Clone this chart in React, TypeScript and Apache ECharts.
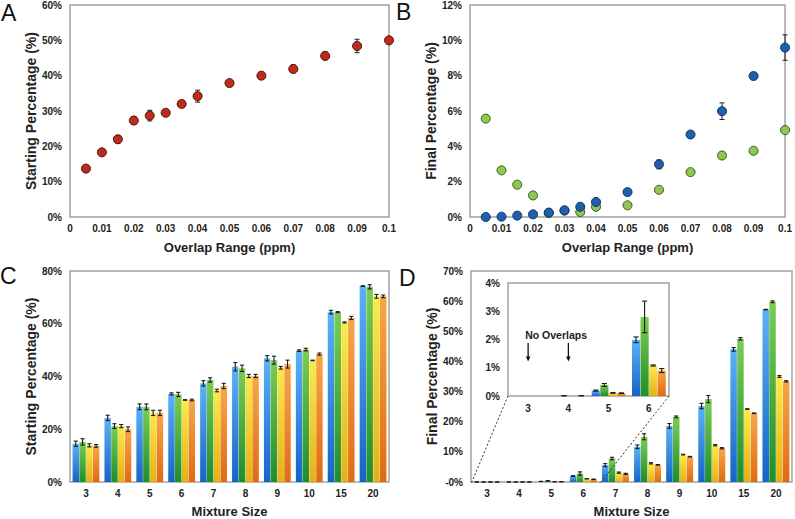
import React, { useEffect, useRef } from 'react';
import * as echarts from 'echarts';

// ---- Panel A / B data ----
const overlapRange = [0.005, 0.01, 0.015, 0.02, 0.025, 0.03, 0.035, 0.04, 0.05, 0.06, 0.07, 0.08, 0.09, 0.1];
const startPct = [13.7, 18.3, 22.0, 27.3, 28.7, 29.5, 32.0, 34.2, 37.9, 40.0, 41.9, 45.6, 48.4, 50.0];
const startPctErr = [0.5, 0.5, 1.0, 1.1, 1.5, 0.8, 0.8, 1.7, 0.5, 1.0, 1.1, 1.1, 1.9, 0.8];
const finalBlue = [0.0, 0.02, 0.08, 0.15, 0.25, 0.38, 0.58, 0.85, 1.41, 2.98, 4.67, 5.99, 7.98, 9.59];
const finalBlueErr = [0.02, 0.02, 0.03, 0.05, 0.05, 0.08, 0.08, 0.1, 0.08, 0.25, 0.1, 0.47, 0.2, 0.72];
const finalGreen = [5.57, 2.64, 1.83, 1.22, 0.22, 0.36, 0.28, 0.58, 0.66, 1.54, 2.54, 3.48, 3.75, 4.92];

// ---- Panel C / D data ----
const mixtureSize = ['3', '4', '5', '6', '7', '8', '9', '10', '15', '20'];
const startBlue = [14.5, 24.3, 28.5, 33.4, 37.4, 43.7, 46.9, 49.8, 64.4, 74.3];
const startGreen = [15.2, 21.2, 28.5, 33.2, 38.7, 43.1, 46.2, 50.2, 64.4, 74.0];
const startYellow = [13.9, 21.2, 26.2, 31.1, 34.7, 40.2, 43.3, 46.1, 60.5, 70.4];
const startOrange = [13.7, 20.0, 26.2, 31.1, 36.4, 40.2, 44.7, 48.5, 62.2, 70.4];
const startBlueErr = [1.0, 1.0, 1.1, 0.4, 1.0, 1.6, 1.0, 0.3, 0.7, 0.1];
const startGreenErr = [1.2, 0.9, 1.1, 0.8, 0.8, 1.2, 1.5, 0.5, 0.2, 0.8];
const startYellowErr = [0.6, 0.6, 1.0, 0.1, 0.5, 0.6, 0.5, 0.1, 0.2, 0.7];
const startOrangeErr = [0.5, 0.9, 1.0, 0.3, 1.0, 0.6, 1.5, 0.4, 0.6, 0.5];

const endBlue = [0, 0, 0.19, 1.99, 5.6, 11.7, 18.6, 25.2, 44.0, 57.2];
const endGreen = [0, 0.01, 0.39, 2.8, 7.8, 15.0, 21.6, 27.5, 47.5, 59.8];
const endYellow = [0, 0, 0.11, 1.08, 3.1, 6.2, 9.1, 12.2, 24.2, 35.0];
const endOrange = [0, 0.01, 0.1, 0.9, 2.7, 5.7, 8.4, 11.2, 22.8, 33.4];
const endBlueErr = [0, 0, 0.02, 0.1, 0.5, 0.6, 0.8, 0.9, 0.6, 0.1];
const endGreenErr = [0, 0, 0.05, 0.56, 0.4, 1.0, 0.3, 1.2, 0.4, 0.3];
const endYellowErr = [0, 0, 0.01, 0.02, 0.2, 0.2, 0.1, 0.2, 0.1, 0.3];
const endOrangeErr = [0, 0, 0.01, 0.07, 0.2, 0.1, 0.1, 0.2, 0.1, 0.2];

const insetCount = 4;
const noOverlapCats = ['3', '4'];
const noOverlapText = 'No Overlaps';

const FONT = "'Liberation Sans', Arial, Helvetica, sans-serif";
const BORDER = '#a3a3a3';
const CAT_GAP = 0.16;
const BAR_GAP = 0.05;

const grad = (top: string, bottom: string) =>
  new echarts.graphic.LinearGradient(0, 0, 0, 1, [
    { offset: 0, color: top },
    { offset: 1, color: bottom },
  ]);

const barColors = [
  ['#5cb2f8', '#1464c6'],
  ['#7ccd52', '#1e8d2d'],
  ['#fbea4c', '#e3b01a'],
  ['#f8a746', '#e06a12'],
];

function scatterErr(xs: number[], ys: number[], es: number[], gi: number) {
  return {
    type: 'custom',
    xAxisIndex: gi,
    yAxisIndex: gi,
    z: 1,
    silent: true,
    data: xs.map((x, i) => [x, ys[i], es[i]]),
    renderItem: (params: any, api: any) => {
      const x = api.value(0), y = api.value(1), e = api.value(2);
      const t = api.coord([x, y + e]);
      const b = api.coord([x, y - e]);
      const cap = 2.5;
      const st = { stroke: '#222', lineWidth: 1 };
      return {
        type: 'group',
        children: [
          { type: 'line', shape: { x1: t[0], y1: t[1], x2: b[0], y2: b[1] }, style: st },
          { type: 'line', shape: { x1: t[0] - cap, y1: t[1], x2: t[0] + cap, y2: t[1] }, style: st },
          { type: 'line', shape: { x1: b[0] - cap, y1: b[1], x2: b[0] + cap, y2: b[1] }, style: st },
        ],
      };
    },
  };
}

function barErr(values: number[], errs: number[], gi: number, sIdx: number, skipZero: boolean) {
  return {
    type: 'custom',
    xAxisIndex: gi,
    yAxisIndex: gi,
    z: 5,
    silent: true,
    data: values.map((v, i) => [i, v, errs[i]]),
    renderItem: (params: any, api: any) => {
      const i = api.value(0), v = api.value(1), e = api.value(2);
      if (skipZero && v === 0 && e === 0) return null;
      const catW = api.size([1, 0])[0];
      const avail = catW * (1 - CAT_GAP);
      const n = 4;
      const w = avail / (n + (n - 1) * BAR_GAP);
      const c = api.coord([i, v]);
      const cx = c[0] - avail / 2 + w / 2 + sIdx * w * (1 + BAR_GAP);
      const ty = api.coord([i, v + e])[1];
      const by = api.coord([i, Math.max(v - e, 0)])[1];
      const cap = Math.min(w * 0.32, 2.6);
      const st = { stroke: '#1a1a1a', lineWidth: 1.1 };
      return {
        type: 'group',
        children: [
          { type: 'line', shape: { x1: cx, y1: ty, x2: cx, y2: by }, style: st },
          { type: 'line', shape: { x1: cx - cap, y1: ty, x2: cx + cap, y2: ty }, style: st },
          { type: 'line', shape: { x1: cx - cap, y1: by, x2: cx + cap, y2: by }, style: st },
        ],
      };
    },
  };
}

function barSeries(values: number[], gi: number, sIdx: number) {
  return {
    type: 'bar',
    xAxisIndex: gi,
    yAxisIndex: gi,
    data: values,
    barCategoryGap: CAT_GAP * 100 + '%',
    barGap: BAR_GAP * 100 + '%',
    itemStyle: { color: grad(barColors[sIdx][0], barColors[sIdx][1]) },
    z: 2,
  };
}

const labelStyle = { fontFamily: FONT, fontWeight: 'bold' as const, fontSize: 10, color: '#222' };
const xNameStyle = { fontFamily: FONT, fontWeight: 'bold' as const, fontSize: 13, color: '#222' };
const yNameStyle = { fontFamily: FONT, fontWeight: 'bold' as const, fontSize: 14, color: '#222' };

// grid rectangles (pixels)
const G = [
  { left: 70, top: 5, width: 319, height: 212 }, // A
  { left: 470, top: 5, width: 322, height: 212 }, // B
  { left: 70, top: 271, width: 319, height: 213 }, // C
  { left: 471, top: 271, width: 321, height: 213 }, // D
  { left: 508, top: 283, width: 161, height: 113 }, // inset
];

const fmtRange = (v: number) => (v === 0 ? '0' : String(parseFloat(v.toFixed(3))));

export default function App() {
  const ref = useRef<HTMLDivElement>(null);
  useEffect(() => {
    if (!ref.current) return;
    const chart = echarts.init(ref.current, undefined, { renderer: 'svg' });
    const insetCats = mixtureSize.slice(0, insetCount);
    const dCatW = G[3].width / mixtureSize.length;

    const option: any = {
      animation: false,
      backgroundColor: '#fff',
      grid: G.map((g, i) => ({
        ...g,
        show: true,
        borderColor: BORDER,
        borderWidth: 1.5,
        backgroundColor: '#fff',
        z: i === 4 ? 10 : 0,
      })),
      xAxis: [
        {
          type: 'value', gridIndex: 0, min: 0, max: 0.1, interval: 0.01,
          axisLine: { show: false }, axisTick: { show: false }, splitLine: { show: false },
          axisLabel: { ...labelStyle, margin: 6, formatter: fmtRange },
          name: 'Overlap Range (ppm)', nameLocation: 'middle', nameGap: 24, nameTextStyle: xNameStyle,
        },
        {
          type: 'value', gridIndex: 1, min: 0, max: 0.1, interval: 0.01,
          axisLine: { show: false }, axisTick: { show: false }, splitLine: { show: false },
          axisLabel: { ...labelStyle, margin: 6, formatter: fmtRange },
          name: 'Overlap Range (ppm)', nameLocation: 'middle', nameGap: 24, nameTextStyle: xNameStyle,
        },
        {
          type: 'category', gridIndex: 2, data: mixtureSize,
          axisLine: { show: false }, axisTick: { show: false }, splitLine: { show: false },
          axisLabel: { ...labelStyle, margin: 6 },
          name: 'Mixture Size', nameLocation: 'middle', nameGap: 23, nameTextStyle: xNameStyle,
        },
        {
          type: 'category', gridIndex: 3, data: mixtureSize,
          axisLine: { show: false }, axisTick: { show: false }, splitLine: { show: false },
          axisLabel: { ...labelStyle, margin: 6 },
          name: 'Mixture Size', nameLocation: 'middle', nameGap: 23, nameTextStyle: xNameStyle,
        },
        {
          type: 'category', gridIndex: 4, data: insetCats, z: 10,
          axisLine: { show: false }, axisTick: { show: false }, splitLine: { show: false },
          axisLabel: { ...labelStyle, margin: 7 },
        },
      ],
      yAxis: [
        {
          type: 'value', gridIndex: 0, min: 0, max: 60, interval: 10,
          axisLine: { show: false }, axisTick: { show: false }, splitLine: { show: false },
          axisLabel: { ...labelStyle, margin: 8, formatter: '{value}%' },
          name: 'Starting Percentage (%)', nameLocation: 'middle', nameGap: 28, nameTextStyle: yNameStyle,
        },
        {
          type: 'value', gridIndex: 1, min: 0, max: 12, interval: 2,
          axisLine: { show: false }, axisTick: { show: false }, splitLine: { show: false },
          axisLabel: { ...labelStyle, margin: 8, formatter: '{value}%' },
          name: 'Final Percentage (%)', nameLocation: 'middle', nameGap: 28, nameTextStyle: yNameStyle,
        },
        {
          type: 'value', gridIndex: 2, min: 0, max: 80, interval: 20,
          axisLine: { show: false }, axisTick: { show: false }, splitLine: { show: false },
          axisLabel: { ...labelStyle, margin: 8, formatter: '{value}%' },
          name: 'Starting Percentage (%)', nameLocation: 'middle', nameGap: 28, nameTextStyle: yNameStyle,
        },
        {
          type: 'value', gridIndex: 3, min: 0, max: 70, interval: 10,
          axisLine: { show: false }, axisTick: { show: false }, splitLine: { show: false },
          axisLabel: { ...labelStyle, margin: 8, formatter: (v: number) => (v === 0 ? '-0%' : v + '%') },
          name: 'Final Percentage (%)', nameLocation: 'middle', nameGap: 28, nameTextStyle: yNameStyle,
        },
        {
          type: 'value', gridIndex: 4, min: 0, max: 4, interval: 1, z: 10,
          axisLine: { show: false }, axisTick: { show: false }, splitLine: { show: false },
          axisLabel: { ...labelStyle, margin: 8, formatter: '{value}%' },
        },
      ],
      series: [
        // A
        scatterErr(overlapRange, startPct, startPctErr, 0),
        {
          type: 'scatter', xAxisIndex: 0, yAxisIndex: 0, z: 3, symbolSize: 9,
          data: overlapRange.map((x, i) => [x, startPct[i]]),
          itemStyle: { color: '#c2291b', borderColor: '#3a1810', borderWidth: 1, opacity: 1 },
        },
        // B
        {
          type: 'scatter', xAxisIndex: 1, yAxisIndex: 1, z: 2, symbolSize: 9,
          data: overlapRange.map((x, i) => [x, finalGreen[i]]),
          itemStyle: { color: '#8dc853', borderColor: '#3a5820', borderWidth: 1, opacity: 1 },
        },
        scatterErr(overlapRange, finalBlue, finalBlueErr, 1),
        {
          type: 'scatter', xAxisIndex: 1, yAxisIndex: 1, z: 3, symbolSize: 9,
          data: overlapRange.map((x, i) => [x, finalBlue[i]]),
          itemStyle: { color: '#1f5fad', borderColor: '#10335e', borderWidth: 1, opacity: 1 },
        },
        // C
        barSeries(startBlue, 2, 0),
        barSeries(startGreen, 2, 1),
        barSeries(startYellow, 2, 2),
        barSeries(startOrange, 2, 3),
        barErr(startBlue, startBlueErr, 2, 0, false),
        barErr(startGreen, startGreenErr, 2, 1, false),
        barErr(startYellow, startYellowErr, 2, 2, false),
        barErr(startOrange, startOrangeErr, 2, 3, false),
        // D
        barSeries(endBlue, 3, 0),
        barSeries(endGreen, 3, 1),
        barSeries(endYellow, 3, 2),
        barSeries(endOrange, 3, 3),
        barErr(endBlue, endBlueErr, 3, 0, false),
        barErr(endGreen, endGreenErr, 3, 1, false),
        barErr(endYellow, endYellowErr, 3, 2, false),
        barErr(endOrange, endOrangeErr, 3, 3, false),
        // inset
        { ...barSeries(endBlue.slice(0, insetCount), 4, 0), z: 12 },
        { ...barSeries(endGreen.slice(0, insetCount), 4, 1), z: 12 },
        { ...barSeries(endYellow.slice(0, insetCount), 4, 2), z: 12 },
        { ...barSeries(endOrange.slice(0, insetCount), 4, 3), z: 12 },
        { ...barErr(endBlue.slice(0, insetCount), endBlueErr.slice(0, insetCount), 4, 0, true), z: 13 },
        { ...barErr(endGreen.slice(0, insetCount), endGreenErr.slice(0, insetCount), 4, 1, true), z: 13 },
        { ...barErr(endYellow.slice(0, insetCount), endYellowErr.slice(0, insetCount), 4, 2, true), z: 13 },
        { ...barErr(endOrange.slice(0, insetCount), endOrangeErr.slice(0, insetCount), 4, 3, true), z: 13 },
        // inset arrows + label
        {
          type: 'custom', xAxisIndex: 4, yAxisIndex: 4, z: 14, silent: true,
          data: noOverlapCats.map((c) => [insetCats.indexOf(c), 1.88, 1.22]),
          renderItem: (params: any, api: any) => {
            const i = api.value(0);
            const p1 = api.coord([i, api.value(1)]);
            const p2 = api.coord([i, api.value(2)]);
            const children: any[] = [
              { type: 'line', shape: { x1: p1[0], y1: p1[1], x2: p1[0], y2: p2[1] - 4 }, style: { stroke: '#111', lineWidth: 1.3 } },
              {
                type: 'polygon',
                shape: { points: [[p2[0] - 2.2, p2[1] - 5], [p2[0] + 2.2, p2[1] - 5], [p2[0], p2[1]]] },
                style: { fill: '#111' },
              },
            ];
            if (params.dataIndex === 0) {
              children.push({
                type: 'text',
                style: {
                  x: p1[0] - 3, y: p1[1] - 8, text: noOverlapText, fill: '#222',
                  font: `bold 10.5px ${FONT}`, textAlign: 'left', textVerticalAlign: 'middle',
                },
              });
            }
            return { type: 'group', children };
          },
        },
      ],
      graphic: [
        { type: 'text', left: 1, top: 1, style: { text: 'A', font: `23px ${FONT}`, fill: '#111' } },
        { type: 'text', left: 396, top: 0, style: { text: 'B', font: `23px ${FONT}`, fill: '#111' } },
        { type: 'text', left: 0, top: 264, style: { text: 'C', font: `23px ${FONT}`, fill: '#111' } },
        { type: 'text', left: 399, top: 266, style: { text: 'D', font: `23px ${FONT}`, fill: '#111' } },
        {
          type: 'line', z: 20,
          shape: { x1: G[4].left, y1: G[4].top + G[4].height, x2: G[3].left, y2: G[3].top + G[3].height },
          style: { stroke: '#333', lineWidth: 1, lineDash: [2, 2] },
        },
        {
          type: 'line', z: 20,
          shape: {
            x1: G[4].left + G[4].width, y1: G[4].top + G[4].height,
            x2: G[3].left + dCatW * insetCount, y2: G[3].top + G[3].height,
          },
          style: { stroke: '#333', lineWidth: 1, lineDash: [2, 2] },
        },
      ],
    };
    chart.setOption(option);
    return () => chart.dispose();
  }, []);
  return (
    <div
      ref={ref}
      style={{ position: 'absolute', left: 0, top: 0, width: 795, height: 519, background: '#fff' }}
    />
  );
}
